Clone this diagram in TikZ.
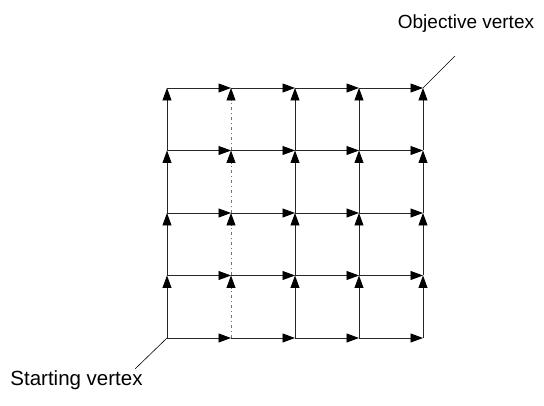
\documentclass[tikz,border=0pt]{standalone}
\usepackage{fontspec}
\setmainfont{Liberation Sans}
\usetikzlibrary{arrows.meta}
\begin{document}
\begin{tikzpicture}[x=1pt,y=-1pt,
  edge/.style={line width=0.75pt, draw=black!85, -{Triangle[length=12.5pt,width=9pt,color=black]}},
  faint/.style={edge, draw=black!55, dash pattern=on 3pt off 3pt on 1pt off 3pt},
  leader/.style={line width=0.6pt, draw=black},
  lbl/.style={font=\fontsize{20.5}{24}\selectfont, anchor=base, inner sep=0pt}]
\useasboundingbox (0,0) rectangle (544,406);
% vertices
\foreach \i/\x in {0/167,1/231,2/295,3/359,4/423}{
  \foreach \j/\y in {0/338,1/275.5,2/213,3/150.5,4/88}{
    \coordinate (v\i\j) at (\x,\y);
  }
}
% horizontal edges
\foreach \i [evaluate=\i as \n using int(\i+1)] in {0,1,2,3}{
  \foreach \j in {0,1,2,3,4}{
    \draw[edge] (v\i\j) -- (v\n\j);
  }
}
% vertical edges
\foreach \i in {0,2,3,4}{
  \foreach \j [evaluate=\j as \m using int(\j+1)] in {0,1,2,3}{
    \draw[edge] (v\i\j) -- (v\i\m);
  }
}
\foreach \j [evaluate=\j as \m using int(\j+1)] in {0,1,2,3}{
  \draw[faint] (v1\j) -- (v1\m);
}
% labels
\coordinate (objend) at (455,56);
\coordinate (startend) at (135,369);
\draw[leader] (v44) -- (objend);
\draw[leader] (v00) -- (startend);
\node[lbl, font=\fontsize{19}{23}\selectfont] (obj) at (466,29) {Objective vertex};
\node[lbl] (start) at (76.5,385) {Starting vertex};
\end{tikzpicture}
\end{document}
